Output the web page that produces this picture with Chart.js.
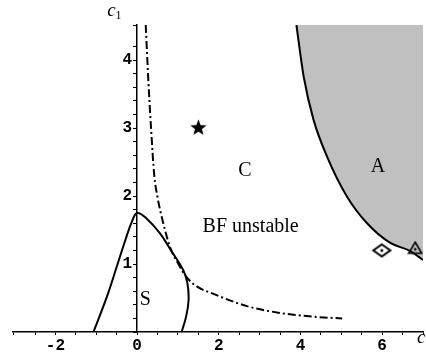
<!DOCTYPE html>
<html>
<head>
<meta charset="utf-8">
<script src="https://cdn.jsdelivr.net/npm/chart.js@4.4.1/dist/chart.umd.min.js"></script>
<style>
  html, body { margin: 0; padding: 0; background: #fff; }
  canvas { display: block; }
</style>
</head>
<body>
<canvas id="c" width="426" height="354"></canvas>
<script>
// Boundary of region A (shaded above/right of the curve)
const aBoundaryX = [3.90, 4.08, 4.32, 4.65, 5.14, 5.63, 6.20, 6.69, 7.00];
const aBoundaryY = [4.515, 3.75, 3.12, 2.58, 1.99, 1.60, 1.31, 1.19, 1.06];

// Closed stability boundary around region S
const sBoundaryX = [-1.07, -0.74, -0.50, -0.29, -0.13, 0.00, 0.23, 0.56, 0.85, 1.13, 1.23, 1.26, 1.20, 1.09];
const sBoundaryY = [0.00, 0.52, 0.96, 1.35, 1.62, 1.75, 1.67, 1.45, 1.18, 0.91, 0.72, 0.47, 0.23, 0.00];

// Dash-dotted curve: BF instability threshold
const bfCurveX = [0.21, 0.27, 0.34, 0.42, 0.50, 0.64, 0.81, 1.00, 1.22, 1.46, 1.87, 2.69, 3.50, 4.32, 5.02];
const bfCurveY = [4.515, 3.75, 3.00, 2.30, 1.98, 1.60, 1.24, 1.01, 0.80, 0.67, 0.56, 0.38, 0.28, 0.225, 0.20];

// Marked parameter points
const starPoint = [1.50, 3.01];
const diamondPoint = [5.99, 1.20];
const trianglePoint = [6.81, 1.24];

// Region names
const regionNames = ['C', 'A', 'BF unstable', 'S'];
const regionNameX = [2.64, 5.90, 2.78, 0.20];
const regionNameY = [2.29, 2.36, 1.475, 0.40];

// Axis ticks
const xTickLabels = [-2, 0, 2, 4, 6];
const yTickLabels = [1, 2, 3, 4];

const toPoints = (xs, ys) => xs.map((x, i) => ({ x, y: ys[i] }));

function starImage() {
  const c = document.createElement('canvas');
  c.width = 19; c.height = 19;
  const g = c.getContext('2d');
  g.beginPath();
  for (let i = 0; i < 10; i++) {
    const r = i % 2 === 0 ? 8.6 : 3.6;
    const a = -Math.PI / 2 + i * Math.PI / 5;
    const px = 9.5 + r * Math.cos(a), py = 10.1 + r * Math.sin(a);
    if (i === 0) g.moveTo(px, py); else g.lineTo(px, py);
  }
  g.closePath();
  g.fillStyle = '#000';
  g.fill();
  return c;
}

function diamondImage() {
  const c = document.createElement('canvas');
  c.width = 22; c.height = 16;
  const g = c.getContext('2d');
  g.beginPath();
  g.moveTo(11, 2); g.lineTo(19.5, 8); g.lineTo(11, 14); g.lineTo(2.5, 8);
  g.closePath();
  g.fillStyle = '#fff';
  g.fill();
  g.lineWidth = 2;
  g.strokeStyle = '#000';
  g.stroke();
  g.beginPath();
  g.arc(11, 8, 1.5, 0, Math.PI * 2);
  g.fillStyle = '#000';
  g.fill();
  return c;
}

function triangleImage() {
  const c = document.createElement('canvas');
  c.width = 16; c.height = 14;
  const g = c.getContext('2d');
  g.beginPath();
  g.moveTo(8, 1.5); g.lineTo(14.5, 12.5); g.lineTo(1.5, 12.5);
  g.closePath();
  g.lineWidth = 1.6;
  g.strokeStyle = '#000';
  g.stroke();
  g.beginPath();
  g.arc(8, 8.6, 1.3, 0, Math.PI * 2);
  g.fillStyle = '#000';
  g.fill();
  return c;
}

// The c1 axis sits at c3 = 0; nudge its labels a little left of the axis line
const yLabelGap = {
  id: 'yLabelGap',
  beforeDraw(chart) {
    const items = chart.scales.y.getLabelItems();
    items.forEach(it => {
      if (!it._shifted) {
        it.options.translation[0] -= 5;
        it._shifted = true;
      }
    });
  }
};

// Region names and the axis titles c1 / c3
const annotations = {
  id: 'annotations',
  afterDraw(chart) {
    const { ctx, chartArea } = chart;
    const xs = chart.scales.x, ys = chart.scales.y;
    ctx.save();
    ctx.fillStyle = '#000';
    ctx.textAlign = 'center';
    ctx.textBaseline = 'alphabetic';
    ctx.font = '20px "Liberation Serif", serif';
    regionNames.forEach((t, i) => {
      ctx.fillText(t, xs.getPixelForValue(regionNameX[i]), ys.getPixelForValue(regionNameY[i]));
    });

    const axisTitle = (x, y, main, sub) => {
      ctx.textAlign = 'left';
      ctx.font = 'italic 19px "Liberation Serif", serif';
      ctx.fillText(main, x, y);
      const w = ctx.measureText(main).width;
      ctx.font = '12px "Liberation Serif", serif';
      ctx.fillText(sub, x + w, y + 3);
    };
    const x0 = xs.getPixelForValue(0);
    axisTitle(x0 - 30, chartArea.top - 9, 'c', '1');
    axisTitle(chartArea.right - 6, chartArea.bottom + 11, 'c', '3');
    ctx.restore();
  }
};

const lineBase = {
  type: 'line',
  borderColor: '#000',
  borderWidth: 2,
  pointRadius: 0,
  tension: 0.4,
  fill: false,
  order: 1
};

const markerBase = { order: 0, clip: false };

const tickFont = { family: '"Liberation Mono", monospace', size: 16, weight: 'bold' };

new Chart(document.getElementById('c'), {
  type: 'scatter',
  data: {
    datasets: [
      Object.assign({}, lineBase, {
        data: toPoints(aBoundaryX, aBoundaryY),
        cubicInterpolationMode: 'monotone',
        fill: 'end',
        backgroundColor: '#c0c0c0',
        order: 2
      }),
      Object.assign({}, lineBase, {
        data: toPoints(sBoundaryX, sBoundaryY)
      }),
      Object.assign({}, lineBase, {
        data: toPoints(bfCurveX, bfCurveY),
        cubicInterpolationMode: 'monotone',
        borderDash: [8, 3, 2, 3]
      }),
      Object.assign({}, markerBase, {
        data: [{ x: starPoint[0], y: starPoint[1] }],
        pointStyle: starImage(),
        pointRadius: 9
      }),
      Object.assign({}, markerBase, {
        data: [{ x: diamondPoint[0], y: diamondPoint[1] }],
        pointStyle: diamondImage(),
        pointRadius: 9
      }),
      Object.assign({}, markerBase, {
        data: [{ x: trianglePoint[0], y: trianglePoint[1] }],
        pointStyle: triangleImage(),
        pointRadius: 8
      })
    ]
  },
  options: {
    responsive: false,
    animation: false,
    events: [],
    layout: { autoPadding: false, padding: { left: 13, right: 3, top: 25, bottom: 0 } },
    plugins: { legend: { display: false }, tooltip: { enabled: false } },
    scales: {
      x: {
        type: 'linear',
        position: 'bottom',
        min: -3.04,
        max: 7.0,
        afterFit(s) { s.height = 22; },
        border: { display: true, color: '#000', width: 1.5 },
        grid: { drawOnChartArea: false, drawTicks: true, tickLength: 3, color: '#000', lineWidth: 1 },
        ticks: {
          stepSize: 0.5,
          autoSkip: false,
          maxRotation: 0,
          padding: 1,
          color: '#000',
          font: tickFont,
          callback(v) {
            const r = Math.round(v);
            return Math.abs(v - r) < 1e-6 && xTickLabels.includes(r) ? String(r) : '';
          }
        }
      },
      y: {
        type: 'linear',
        position: { x: 0 },
        min: 0,
        max: 4.515,
        afterFit(s) { s.width = 0; },
        border: { display: true, color: '#000', width: 1.5 },
        grid: { drawOnChartArea: false, drawTicks: true, tickLength: 3, color: '#000', lineWidth: 1 },
        ticks: {
          stepSize: 0.2,
          autoSkip: false,
          padding: 4,
          color: '#000',
          font: tickFont,
          callback(v) {
            const r = Math.round(v);
            return Math.abs(v - r) < 1e-6 && yTickLabels.includes(r) ? String(r) : '';
          }
        }
      }
    }
  },
  plugins: [yLabelGap, annotations]
});
</script>
</body>
</html>
